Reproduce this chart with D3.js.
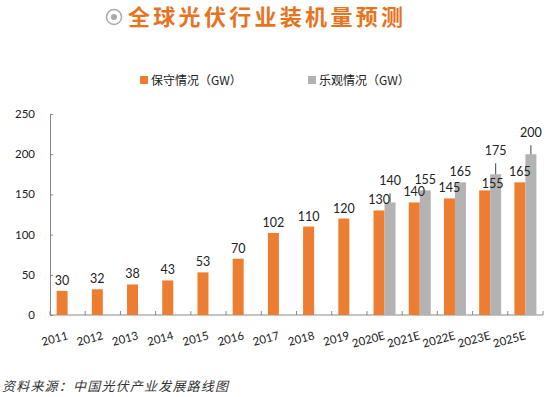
<!DOCTYPE html>
<html>
<head>
<meta charset="utf-8">
<script src="https://cdn.jsdelivr.net/npm/d3@7"></script>
<style>
  body { margin: 0; background: #fff; }
  svg text { font-family: Lato, "Noto Sans CJK SC", sans-serif; }
</style>
</head>
<body>
<div id="chart"></div>
<script>
// data
const categories = ["2011", "2012", "2013", "2014", "2015", "2016", "2017", "2018", "2019",
                    "2020E", "2021E", "2022E", "2023E", "2025E"];
const conservative = [30, 32, 38, 43, 53, 70, 102, 110, 120, 130, 140, 145, 155, 165];
const optimistic = [null, null, null, null, null, null, null, null, null, 140, 155, 165, 175, 200];
const seriesNames = ["保守情况（GW）", "乐观情况（GW）"];
const yTicks = [0, 50, 100, 150, 200, 250];

const W = 554, H = 397;
const margin = { left: 50, right: 11, top: 114, bottom: 82 };
const orange = "#ED7D31", grey = "#B3B3B3";

const svg = d3.select("#chart").append("svg")
    .attr("width", W)
    .attr("height", H);

// title
svg.append("circle").attr("cx", 114).attr("cy", 17).attr("r", 7.5)
    .attr("fill", "none").attr("stroke", "#aaa").attr("stroke-width", 1.5);
svg.append("circle").attr("cx", 114).attr("cy", 17).attr("r", 3)
    .attr("fill", "#aaa");
svg.append("text")
    .attr("x", 128).attr("y", 25)
    .attr("fill", "#E8731E")
    .attr("font-size", 22)
    .attr("font-weight", "bold")
    .attr("letter-spacing", 3.3)
    .style("font-family", "'Noto Sans CJK SC', sans-serif")
    .text("全球光伏行业装机量预测");

const x = d3.scaleBand()
    .domain(categories)
    .range([margin.left, W - margin.right]);

const y = d3.scaleLinear()
    .domain([0, 250])
    .range([H - margin.bottom, margin.top]);

const barW = 11;

// axes
const yAxis = svg.append("g")
    .attr("transform", `translate(${margin.left},0)`)
    .call(d3.axisRight(y).tickValues(yTicks).tickSize(3).tickFormat(""));
yAxis.selectAll("line, path").attr("stroke", "#888");

svg.selectAll(".ylab")
    .data(yTicks)
    .enter()
    .append("text")
    .attr("x", 35)
    .attr("y", d => y(d) + 4)
    .attr("text-anchor", "end")
    .attr("font-size", 11.5)
    .attr("fill", "#222")
    .text(d => d);

const x0 = y(0);
svg.append("line")
    .attr("x1", margin.left).attr("x2", W - margin.right)
    .attr("y1", x0).attr("y2", x0)
    .attr("stroke", "#888");
svg.selectAll(".xtick")
    .data(categories.concat(["end"]))
    .enter()
    .append("line")
    .attr("x1", (d, i) => margin.left + i * x.bandwidth())
    .attr("x2", (d, i) => margin.left + i * x.bandwidth())
    .attr("y1", x0).attr("y2", x0 - 4)
    .attr("stroke", "#888");

svg.selectAll(".xlab")
    .data(categories)
    .enter()
    .append("text")
    .attr("transform", d => `translate(${x(d) + x.bandwidth() / 2 + 1},${x0 + 24}) rotate(-15)`)
    .attr("text-anchor", "end")
    .attr("font-size", 11.5)
    .attr("fill", "#222")
    .text(d => d);

// bars
const orangeX = d => x(d) + x.bandwidth() / 2 - barW;
const greyX = d => x(d) + x.bandwidth() / 2;

svg.selectAll(".bar-c")
    .data(categories)
    .enter()
    .append("rect")
    .attr("x", orangeX)
    .attr("y", (d, i) => y(conservative[i]))
    .attr("width", barW)
    .attr("height", (d, i) => x0 - y(conservative[i]))
    .attr("fill", orange);

const optCats = categories.filter((d, i) => optimistic[i] != null);
svg.selectAll(".bar-o")
    .data(optCats)
    .enter()
    .append("rect")
    .attr("x", greyX)
    .attr("y", d => y(optimistic[categories.indexOf(d)]))
    .attr("width", barW)
    .attr("height", d => x0 - y(optimistic[categories.indexOf(d)]))
    .attr("fill", grey);

// data labels, a few moved like in the original to avoid overlaps
const nudgeC = { "2023E": { dx: 8, dy: 4 } };
const nudgeO = { "2020E": { dx: 0, dy: -11 }, "2023E": { dx: 0, dy: -13 }, "2025E": { dx: 0, dy: -11 } };

categories.forEach((c, i) => {
    const n = nudgeC[c] || { dx: 0, dy: 0 };
    svg.append("text")
        .attr("x", orangeX(c) + barW / 2 + n.dx)
        .attr("y", y(conservative[i]) - 6 + n.dy)
        .attr("text-anchor", "middle")
        .attr("font-size", 12.5)
        .attr("fill", "#222")
        .text(conservative[i]);
});

optCats.forEach(c => {
    const v = optimistic[categories.indexOf(c)];
    const n = nudgeO[c] || { dx: 0, dy: 0 };
    const cx = greyX(c) + barW / 2 + n.dx;
    if (n.dy < 0) {
        svg.append("line")
            .attr("x1", cx).attr("x2", cx)
            .attr("y1", y(v)).attr("y2", y(v) + n.dy + 2)
            .attr("stroke", "#444");
    }
    svg.append("text")
        .attr("x", cx)
        .attr("y", y(v) - 6 + n.dy)
        .attr("text-anchor", "middle")
        .attr("font-size", 12.5)
        .attr("fill", "#222")
        .text(v);
});

// legend
const legend = svg.selectAll(".legend")
    .data(seriesNames)
    .enter()
    .append("g")
    .attr("transform", (d, i) => `translate(${i === 0 ? 140 : 308},76)`);
legend.append("rect")
    .attr("width", 8).attr("height", 8)
    .attr("fill", (d, i) => i === 0 ? orange : grey);
legend.append("text")
    .attr("x", 11).attr("y", 8.5)
    .attr("font-size", 12)
    .attr("fill", "#222")
    .style("font-family", "'Noto Sans CJK SC', sans-serif")
    .text(d => d);

// source
svg.append("text")
    .attr("x", 2).attr("y", 391)
    .attr("font-size", 13)
    .attr("font-style", "italic")
    .attr("letter-spacing", 1.2)
    .attr("fill", "#333")
    .style("font-family", "'Noto Sans CJK SC', sans-serif")
    .text("资料来源：中国光伏产业发展路线图");
</script>
</body>
</html>
